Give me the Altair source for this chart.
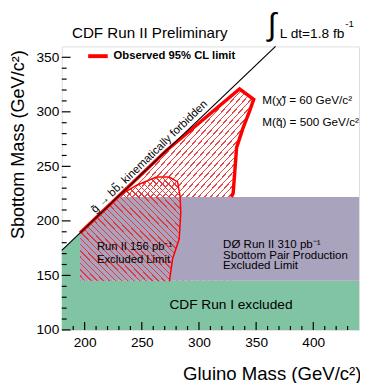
import altair as alt
import pandas as pd

FONT = "Liberation Sans"

# ---------------- data (GeV/c^2) ----------------
x_domain = [180, 440]
y_domain = [100, 360]
x_major = [200, 250, 300, 350, 400]
y_major = [100, 150, 200, 250, 300, 350]
x_minor = [190, 210, 220, 230, 240, 260, 270, 280, 290, 310, 320, 330, 340,
           360, 370, 380, 390, 410, 420, 430]
y_minor = [110, 120, 130, 140, 160, 170, 180, 190, 210, 220, 230, 240, 260,
           270, 280, 290, 310, 320, 330, 340]

# kinematic limit line
diag_g = [180, 367]
diag_s = [173, 360]

# CDF Run I excluded region
run1_g = [180, 440, 440, 196, 196, 180]
run1_s = [100, 100, 145, 145, 189, 173]

# D0 Run II 310 pb-1 region
d0_g = [196, 440, 440, 229, 196]
d0_s = [145, 145, 222, 222, 189]

# Observed 95% CL limit
obs_g = [196, 196, 271.3, 335.5, 347.9, 344, 338.5, 332.9, 331.4, 329.9, 328.3, 328]
obs_s = [145, 189, 264.3, 320.9, 311.4, 300, 285, 267.1, 246.2, 225.3, 222, 145]

# Run II 156 pb-1 excluded limit
run2_g = [196, 196, 230, 245.6, 262.7, 274.1, 281.3, 283.5, 284.1, 282.7, 277, 274.1]
run2_s = [145, 189, 223, 232.7, 240.2, 240.2, 235.7, 222.2, 207.6, 183.4, 165.5, 144.6]

# ---------------- helpers ----------------
xs = alt.Scale(domain=x_domain, nice=False, zero=False)
ys = alt.Scale(domain=y_domain, nice=False, zero=False)
xaxis = alt.Axis(values=x_major, ticks=False, domain=False, grid=False,
                 labelFontSize=14, labelColor="black", labelFont=FONT, labelPadding=6,
                 title="Gluino Mass (GeV/c²)", titleFont=FONT, titleFontSize=19,
                 titleFontWeight="normal", titleColor="black", titleX=306, titleY=51,
                 titleAlign="right", titleBaseline="alphabetic", labelFlush=False)
yaxis = alt.Axis(values=y_major, ticks=False, domain=False, grid=False,
                 labelFontSize=14, labelColor="black", labelFont=FONT, labelPadding=3,
                 title="Sbottom Mass (GeV/c²)", titleFont=FONT, titleFontSize=18.5,
                 titleFontWeight="normal", titleColor="black", titleX=-45, titleY=100,
                 titleAngle=270, titleAlign="center", titleBaseline="middle",
                 labelFlush=False)
X = alt.X("g:Q", scale=xs, axis=xaxis)
Y = alt.Y("s:Q", scale=ys, axis=yaxis)


def frame(g, s):
    return pd.DataFrame({"g": g, "s": s, "i": list(range(len(g)))})


def shape(g, s, **mark):
    return alt.Chart(frame(g, s)).mark_line(**mark).encode(x=X, y=Y, order="i:Q")


def hatch(n, frac, color, x1, y1, x2, y2):
    clear = "rgba(255,255,255,0)"
    stops = []
    for k in range(n):
        a = k / n
        b = (k + frac) / n
        c = min((k + 1) / n, 1.0)
        stops += [alt.GradientStop(offset=a, color=color),
                  alt.GradientStop(offset=b, color=color),
                  alt.GradientStop(offset=b, color=clear),
                  alt.GradientStop(offset=c, color=clear)]
    return alt.LinearGradient(gradient="linear", stops=stops, x1=x1, y1=y1, x2=x2, y2=y2)


dummy = pd.DataFrame({"a": [0]})


def label(text, x, y, size, align="left", baseline="middle", weight="normal"):
    return alt.Chart(dummy).mark_text(
        text=text, align=align, baseline=baseline, fontSize=size, fontWeight=weight,
        font=FONT, color="black").encode(x=alt.value(x), y=alt.value(y))


# ---------------- layers ----------------
green = shape(run1_g, run1_s, fill="#80c4a3", strokeOpacity=0)
obs_fill = shape(obs_g, obs_s, fill=hatch(58, 0.22, "#e44a4c", 0, 0, 1, 1), strokeOpacity=0)
purple = shape(d0_g, d0_s, fill="#aaa3bd", strokeOpacity=0)
run2_fill = shape(run2_g, run2_s, fill=hatch(33, 0.22, "#e23a3c", 1, 0, 0, 1), strokeOpacity=0)
obs_line = shape(obs_g[1:11], obs_s[1:11], color="#ff0000", strokeWidth=3.5,
                 strokeJoin="miter")
run2_line = shape(run2_g[2:], run2_s[2:], color="#ff0000", strokeWidth=1.5)
diag = shape(diag_g, diag_s, color="black", strokeWidth=1.2)

xt_major = alt.Chart(pd.DataFrame({"g": x_major})).mark_rule(color="black", strokeWidth=1.2).encode(
    x=X, y=alt.value(290), y2=alt.value(282))
xt_minor = alt.Chart(pd.DataFrame({"g": x_minor})).mark_rule(color="black", strokeWidth=1.2).encode(
    x=X, y=alt.value(290), y2=alt.value(286))
yt_major = alt.Chart(pd.DataFrame({"s": y_major})).mark_rule(color="black", strokeWidth=1.2).encode(
    y=Y, x=alt.value(0), x2=alt.value(9))
yt_minor = alt.Chart(pd.DataFrame({"s": y_minor})).mark_rule(color="black", strokeWidth=1.2).encode(
    y=Y, x=alt.value(0), x2=alt.value(5))

diag_text = alt.Chart(pd.DataFrame({"g": [261], "s": [254]})).mark_text(
    text="g̃ → bb̃, kinematically forbidden", angle=316, align="center", baseline="bottom",
    dy=-2, fontSize=11.5, font=FONT, color="black").encode(x=X, y=Y)

legend_line = alt.Chart(dummy).mark_rule(color="#ff0000", strokeWidth=4).encode(
    x=alt.value(27), x2=alt.value(47), y=alt.value(10))

texts = [
    label("CDF Run II Preliminary", 90, -9, 15.5, align="center", baseline="alphabetic"),
    label("∫", 215, -22, 32, align="center"),
    label("L dt=1.8 fb", 223, -9, 14, baseline="alphabetic"),
    label("-1", 290, -20, 10, baseline="alphabetic"),
    label("Observed 95% CL limit", 53, 10, 11.5, weight="bold"),
    label("M(χ̃) = 60 GeV/c²", 205, 55, 12),
    label("M(q̃) = 500 GeV/c²", 205, 77, 12),
    label("Run II 156 pb⁻¹", 36, 205, 11.5),
    label("Excluded Limit", 36, 219, 11.5),
    label("DØ   Run II 310 pb⁻¹", 165, 202, 11.8),
    label("Sbottom Pair Production", 165, 213, 11.8),
    label("Excluded Limit", 165, 224, 11.8),
    label("CDF Run I excluded", 173, 265, 14, align="center"),
]

chart = alt.layer(
    green, obs_fill, purple, run2_fill, obs_line, run2_line, diag,
    xt_major, xt_minor, yt_major, yt_minor, diag_text, legend_line, *texts
).properties(
    width=304, height=290, autosize="none",
    padding={"left": 55, "top": 35, "right": 1, "bottom": 50},
).configure_view(stroke="black", strokeWidth=1.3).configure(font=FONT, background="white")

chart.save("out.html", embed_options={"renderer": "svg", "actions": False})
